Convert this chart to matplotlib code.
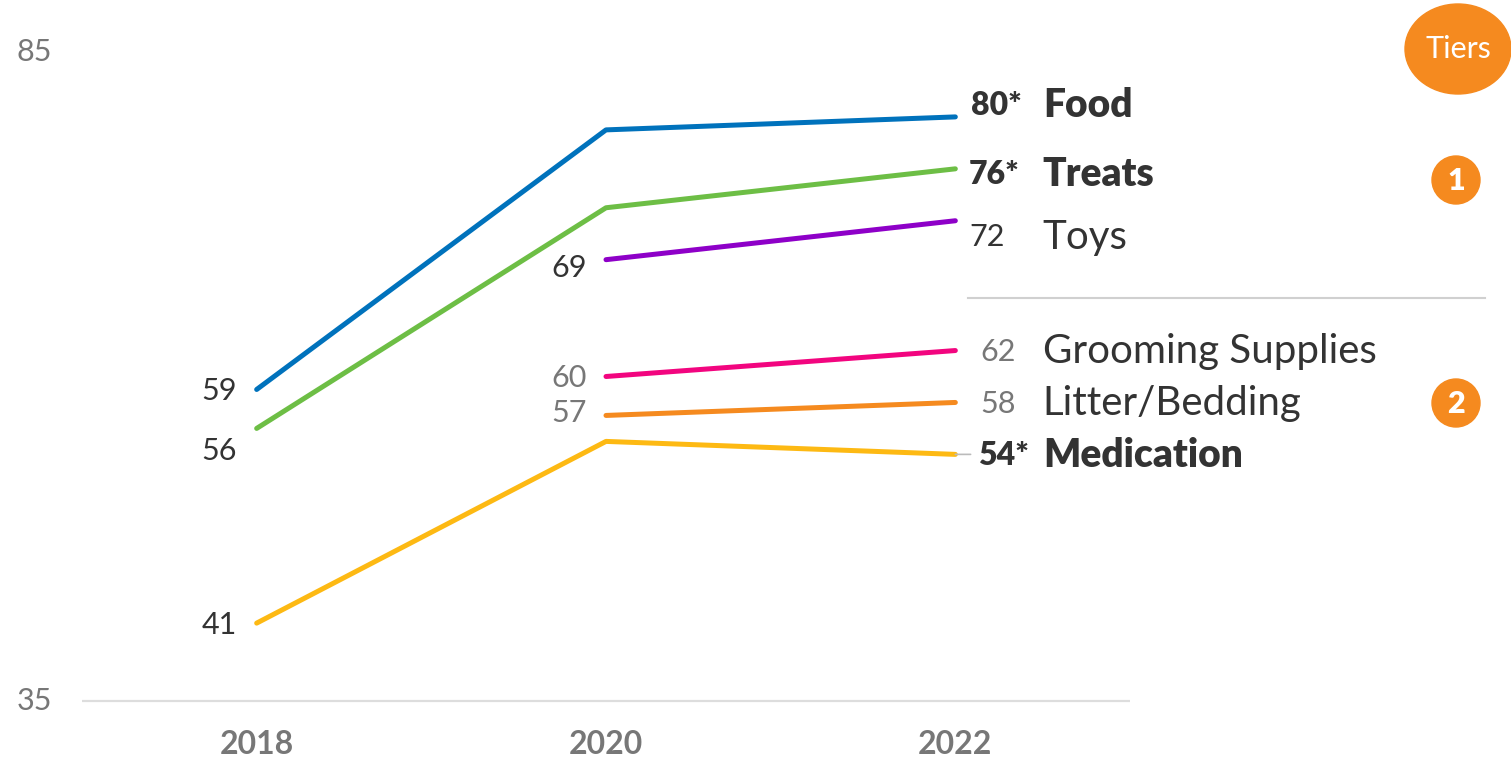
import matplotlib
matplotlib.use("Agg")
import matplotlib.pyplot as plt
from matplotlib.patches import Ellipse, Circle

plt.rcParams['font.family'] = ['Lato', 'DejaVu Sans']

years = [2018, 2020, 2022]
categories = ["Food", "Treats", "Toys", "Grooming Supplies", "Litter/Bedding", "Medication"]
food = [59, 79, 80]
treats = [56, 73, 76]
toys = [None, 69, 72]
grooming = [None, 60, 62]
litter = [None, 57, 58]
medication = [41, 55, 54]
significant = ["Food", "Treats", "Medication"]
tier_labels = ["1", "2"]
y_ticks = [35, 85]

series = [food, treats, toys, grooming, litter, medication]
colors = ["#0072BC", "#6DBE45", "#8E00C8", "#F2057F", "#F58A1F", "#FDB913"]

DARK = "#333333"
GREY = "#777777"
ORANGE = "#F58A1F"

W, H = 1511, 763
fig = plt.figure(figsize=(W / 100, H / 100), dpi=100)
ax = fig.add_axes([82 / W, (H - 701) / H, (1130 - 82) / W, (701 - 52) / H])
ax.set_xlim(2017, 2023)
ax.set_ylim(35, 85)
ax.axis("off")
ax.plot([2017, 2023], [35, 35], color="#DDDDDD", lw=1.6, solid_capstyle="butt", clip_on=False)

# value label styling: colour and vertical offsets (pt) per series
start_label_color = {"Food": DARK, "Treats": DARK, "Toys": DARK, "Grooming Supplies": GREY,
                     "Litter/Bedding": GREY, "Medication": DARK}
start_offset = {"Food": -1, "Treats": -16, "Toys": -6, "Grooming Supplies": -1,
                "Litter/Bedding": 2, "Medication": -1}
end_offset = {"Food": 8, "Treats": -4, "Toys": -12, "Grooming Supplies": -1,
              "Litter/Bedding": -1, "Medication": -1}
end_value_color = {"Food": DARK, "Treats": DARK, "Toys": DARK, "Grooming Supplies": GREY,
                   "Litter/Bedding": GREY, "Medication": DARK}
end_value_dx = {"Food": 11, "Treats": 10, "Toys": 10, "Grooming Supplies": 18,
                "Litter/Bedding": 18, "Medication": 16}

for name, vals, col in zip(categories, series, colors):
    xs = [x for x, v in zip(years, vals) if v is not None]
    ys = [v for v in vals if v is not None]
    ax.plot(xs, ys, color=col, lw=3.6, solid_capstyle="round", zorder=3)
    # first point label, to the left
    ax.annotate(f"{ys[0]}", (xs[0], ys[0]), xytext=(-14, start_offset[name]),
                textcoords="offset points", ha="right", va="center",
                fontsize=22, color=start_label_color[name])
    # end value and category name
    bold = name in significant
    txt = f"{ys[-1]}*" if bold else f"{ys[-1]}"
    ax.annotate(txt, (xs[-1], ys[-1]), xytext=(end_value_dx[name], end_offset[name]),
                textcoords="offset points", ha="left", va="center",
                fontsize=23 if bold else 22, color=end_value_color[name],
                fontweight="heavy" if bold else "normal")
    ax.annotate(name, (xs[-1], ys[-1]), xytext=(63, end_offset[name]),
                textcoords="offset points", ha="left", va="center",
                fontsize=28 if bold else 29, color=DARK,
                fontweight="heavy" if bold else "normal")

# short leader for the medication label
ax.annotate("", (2022, medication[-1]), xytext=(11, 0), textcoords="offset points",
            arrowprops=dict(arrowstyle="-", color="#BBBBBB", lw=1.2, shrinkA=0, shrinkB=0))

for yr in years:
    ax.annotate(str(yr), (yr, 35), xytext=(0, -31), textcoords="offset points",
                ha="center", va="center", fontsize=23, fontweight="bold", color=GREY)

for v in y_ticks:
    ax.annotate(str(v), (2017, v), xytext=(-47, 0), textcoords="offset points",
                ha="left", va="center", fontsize=22, color=GREY)

# tier separator and badges
fig.add_artist(plt.Line2D([968 / W, 1485 / W], [(H - 298) / H] * 2, color="#D0D0D0", lw=1.5))

fax = fig.add_axes([0, 0, 1, 1])
fax.set_xlim(0, W)
fax.set_ylim(H, 0)
fax.axis("off")
fax.add_patch(Ellipse((1458, 49), 106, 90, color=ORANGE))
fax.text(1458, 49, "Tiers", ha="center", va="center", fontsize=22, color="white")
for lbl, cy in zip(tier_labels, [180, 403]):
    fax.add_patch(Circle((1456, cy), 24, color=ORANGE))
    fax.text(1456, cy + 1, lbl, ha="center", va="center", fontsize=22,
             fontweight="heavy", color="white")

fig.savefig("out.png", dpi=100)
